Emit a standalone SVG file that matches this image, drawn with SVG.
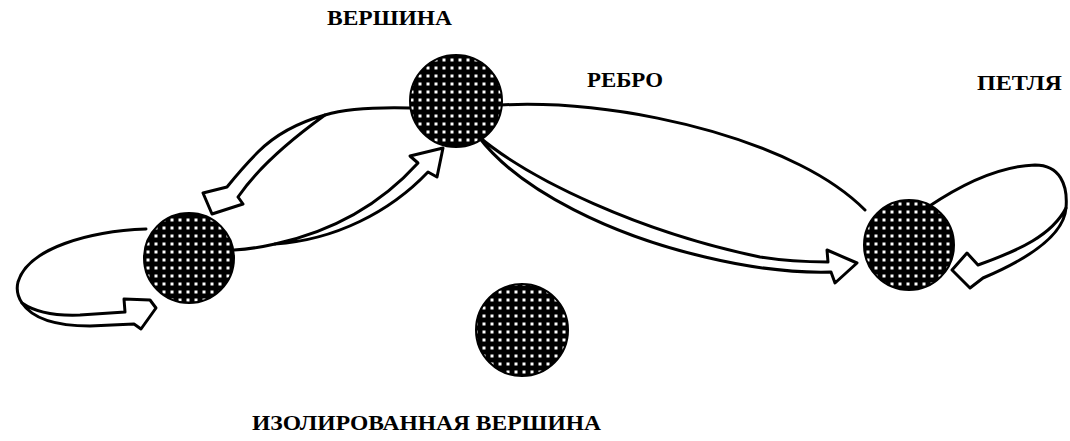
<svg xmlns="http://www.w3.org/2000/svg" width="1070" height="441" viewBox="0 0 1070 441">
<style>
.lbl{font-family:"Liberation Serif","Times New Roman",serif;font-weight:bold;font-size:21px;fill:#000}
.ln{fill:none;stroke:#000;stroke-width:3;stroke-linejoin:round;stroke-linecap:round}
.shaft{fill:#fff;stroke:#000;stroke-width:3;stroke-linejoin:round}
.node{fill:url(#mesh);stroke:#000;stroke-width:2}
</style>
<defs>
<pattern id="mesh" patternUnits="userSpaceOnUse" width="8" height="8">
<rect width="8" height="8" fill="#000"/>
<rect x="2.5" y="2.5" width="3" height="3" fill="#fff"/>
</pattern>
</defs>
<rect width="1070" height="441" fill="#fff"/>
<g id="connectors">
<!-- top -> left (hollow arrow) -->
<path class="ln" d="M410,108 C 370,107 345,109 325,115"/>
<path class="shaft" d="M325,115 C 300,122 275,135 258,152 C 245,165 235,177 227,187 L 203,193 L 212,214 L 243,204 L 238,197 C 255,172 282,146 325,115 Z"/>
<!-- left -> top (hollow arrow) -->
<path class="ln" d="M234,250 C 250,249 262,247 275,244"/>
<path class="shaft" d="M275,244 C 330,232 380,205 418,163 L 410,156 L 443,148 L 437,177 L 428,172 C 390,212 335,240 275,244 Z"/>
<!-- top -> right : plain edge -->
<path class="ln" d="M500,105 C 600,100 720,125 800,165 C 830,180 850,195 865,210"/>
<!-- top -> right : hollow arrow -->
<path class="shaft" d="M478,136 C 530,180 640,232 760,257 C 790,262 810,262 828,262 L 827,250 L 857,263 L 835,283 L 831,272 C 795,273 755,269 705,257 C 615,236 520,192 478,136 Z"/>
<!-- left loop -->
<path class="ln" d="M146,229 C 90,231 28,248 18,282 C 16,290 18,297 22,303"/>
<path class="shaft" d="M22,303 C 32,318 55,326 90,326 L 134,324 L 141,329 L 156,308 L 150,300 L 124,299 L 125,312 L 80,315 C 55,316 35,312 22,303 Z"/>
<!-- right loop -->
<path class="ln" d="M928,207 C 965,182 1000,166 1035,165 C 1060,165 1068,185 1066,208"/>
<path class="shaft" d="M1066,208 C 1064,235 1030,258 983,278 L 970,288 L 952,270 L 967,253 L 978,265 C 1020,250 1052,235 1066,208 Z"/>
</g>
<g id="node-top"><circle class="node" cx="456" cy="101" r="46"/></g>
<g id="node-left"><circle class="node" cx="189" cy="258" r="45"/></g>
<g id="node-right"><circle class="node" cx="909" cy="245" r="45"/></g>
<g id="node-isolated"><circle class="node" cx="522" cy="330" r="46"/></g>
<g id="labels">
<text class="lbl" x="327" y="25" textLength="125" lengthAdjust="spacingAndGlyphs">ВЕРШИНА</text>
<text class="lbl" x="587" y="87" textLength="76" lengthAdjust="spacingAndGlyphs">РЕБРО</text>
<text class="lbl" x="977" y="90" textLength="85" lengthAdjust="spacingAndGlyphs">ПЕТЛЯ</text>
<text class="lbl" x="252" y="430" textLength="349" lengthAdjust="spacingAndGlyphs">ИЗОЛИРОВАННАЯ ВЕРШИНА</text>
</g>
</svg>
